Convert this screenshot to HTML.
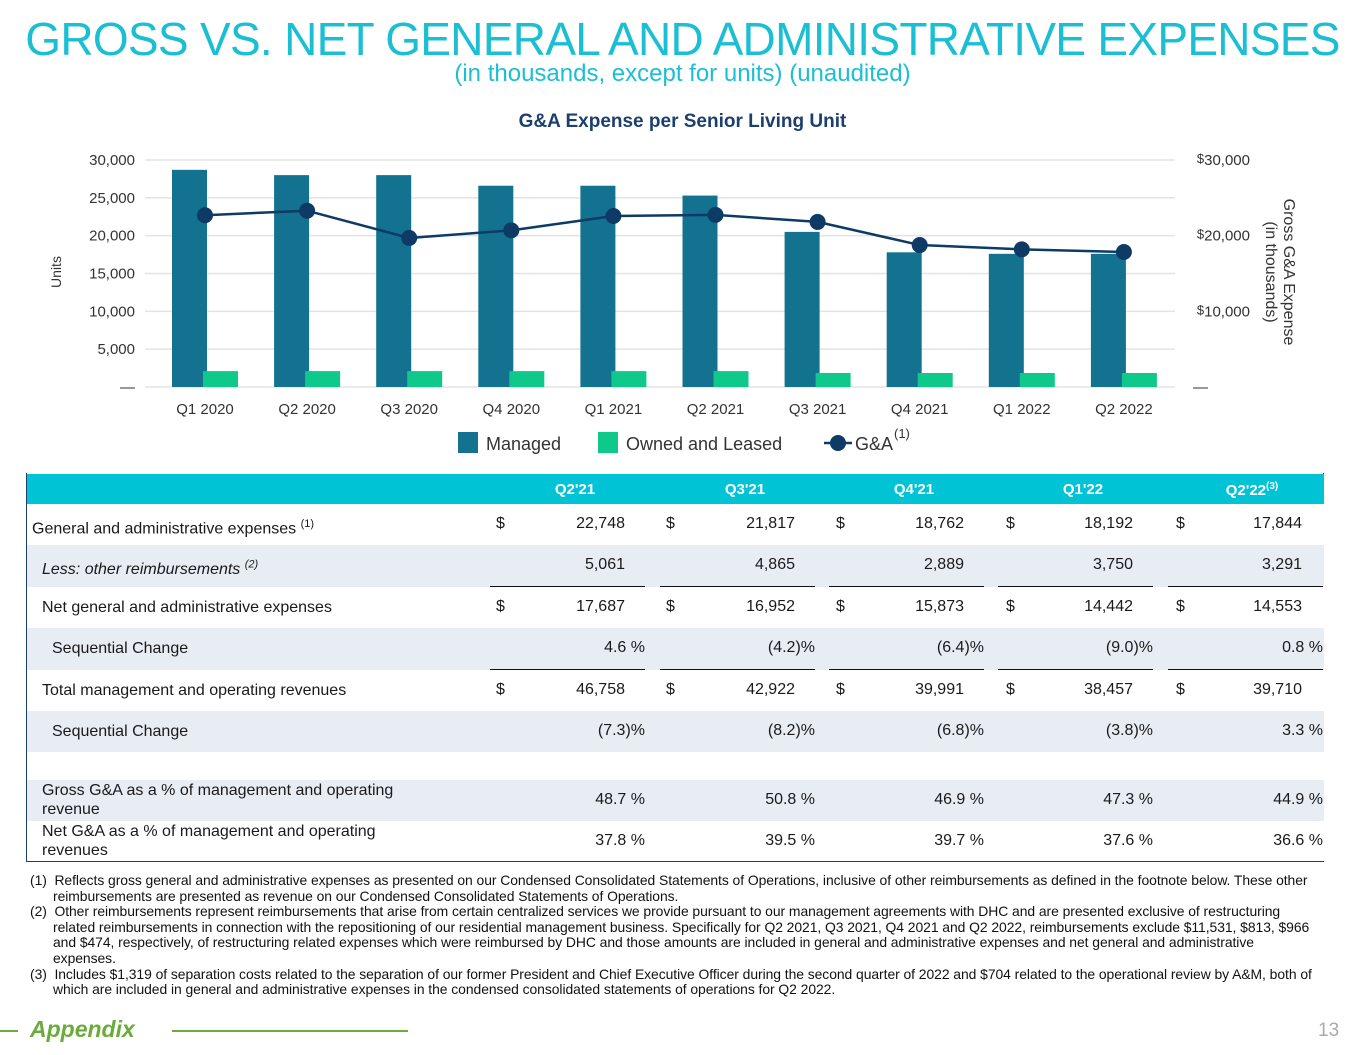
<!DOCTYPE html>
<html><head><meta charset="utf-8"><style>
body{margin:0;width:1365px;height:1055px;background:#fff;position:relative;overflow:hidden;font-family:"Liberation Sans",Arial,sans-serif;}
.a{position:absolute;white-space:nowrap;}
.t{font-size:16px;color:#1a1a1a;}
.fn{font-family:"Liberation Sans Narrow","Liberation Sans",sans-serif;font-size:13.9px;color:#111;line-height:15.6px;letter-spacing:-0.05px;}
</style></head><body>
<div class="a" style="left:0;width:1365px;text-align:center;top:12px;font-size:46px;color:#1bbfd3;letter-spacing:-0.7px">GROSS VS. NET GENERAL AND ADMINISTRATIVE EXPENSES</div>
<div class="a" style="left:0;width:1365px;text-align:center;top:60px;font-size:24px;color:#1bbfd3">(in thousands, except for units) (unaudited)</div>
<div class="a" style="left:0;width:1365px;text-align:center;top:111px;font-size:19px;font-weight:bold;color:#1d3f6e">G&amp;A Expense per Senior Living Unit</div>

<svg class="a" style="left:0;top:140px" width="1365" height="330" id="chart"></svg>

<div class="a" style="left:26px;top:473px;width:1298px;height:389px;border:1.5px solid #1d3f6e;border-top:none;box-sizing:border-box"></div>
<div id="tbl"></div>

<div class="a fn" style="left:30px;top:873px">
<div>(1)&nbsp; Reflects gross general and administrative expenses as presented on our Condensed Consolidated Statements of Operations, inclusive of other reimbursements as defined in the footnote below. These other</div>
<div style="padding-left:23px">reimbursements are presented as revenue on our Condensed Consolidated Statements of Operations.</div>
<div>(2)&nbsp; Other reimbursements represent reimbursements that arise from certain centralized services we provide pursuant to our management agreements with DHC and are presented exclusive of restructuring</div>
<div style="padding-left:23px">related reimbursements in connection with the repositioning of our residential management business. Specifically for Q2 2021, Q3 2021, Q4 2021 and Q2 2022, reimbursements exclude $11,531, $813, $966</div>
<div style="padding-left:23px">and $474, respectively, of restructuring related expenses which were reimbursed by DHC and those amounts are included in general and administrative expenses and net general and administrative</div>
<div style="padding-left:23px">expenses.</div>
<div>(3)&nbsp; Includes $1,319 of separation costs related to the separation of our former President and Chief Executive Officer during the second quarter of 2022 and $704 related to the operational review by A&amp;M, both of</div>
<div style="padding-left:23px">which are included in general and administrative expenses in the condensed consolidated statements of operations for Q2 2022.</div>
</div>
<div class="a" style="left:0;top:1030px;width:18px;height:2px;background:#6aab3c"></div>
<div class="a" style="left:30px;top:1016px;font-size:23px;font-weight:bold;font-style:italic;color:#6aab3c">Appendix</div>
<div class="a" style="left:172px;top:1030px;width:236px;height:2px;background:#6aab3c"></div>
<div class="a" style="left:1318px;top:1020px;font-size:19px;color:#aaa">13</div>

<script>
const categories=["Q1 2020","Q2 2020","Q3 2020","Q4 2020","Q1 2021","Q2 2021","Q3 2021","Q4 2021","Q1 2022","Q2 2022"];
const managed=[28700,28000,28000,26600,26600,25300,20500,17800,17600,17600];
const owned=[2100,2100,2100,2100,2100,2100,1850,1850,1850,1850];
const gna=[22700,23300,19700,20700,22600,22748,21817,18762,18192,17844];
const leftTicks=[0,5000,10000,15000,20000,25000,30000];
const leftTickLabels=["—","5,000","10,000","15,000","20,000","25,000","30,000"];
const rightTicks=[0,10000,20000,30000];
const rightTickLabels=["—","10,000","20,000","30,000"];

const NS="http://www.w3.org/2000/svg";
const svg=document.getElementById('chart');
function y(v){return 247-v*227/30000;}
function xc(i){return 205+i*102.1;}
function mk(tag,attrs,txt){const e=document.createElementNS(NS,tag);for(const k in attrs)e.setAttribute(k,attrs[k]);if(txt!==undefined)e.textContent=txt;svg.appendChild(e);return e;}
leftTicks.forEach((t,i)=>{
  const g=mk('line',{x1:145,x2:1175,y1:y(t),y2:y(t),stroke:'#e3e3e3','stroke-width':1.5});
  
  
  const l=mk('text',{x:135,y:y(t)+5,'text-anchor':'end','font-size':15,fill:'#333'},leftTickLabels[i]);
  
  
});
rightTicks.forEach((t,i)=>{
  let l;
  if(i){
    l=mk('text',{x:1250,y:y(t)+5,'text-anchor':'end','font-size':15,fill:'#333'});
    const s=document.createElementNS(NS,'tspan');s.setAttribute('font-size','13');s.setAttribute('dy','-2');s.textContent='$';l.appendChild(s);
    const n=document.createElementNS(NS,'tspan');n.setAttribute('dy','2');n.textContent=rightTickLabels[i];l.appendChild(n);
  } else {
    l=mk('text',{x:1193,y:y(t)+5,'font-size':15,fill:'#333'},rightTickLabels[i]);
  }
  
  
});
const yl=mk('text',{transform:'translate(61,132) rotate(-90)','text-anchor':'middle','font-size':14,fill:'#333'},'Units');


const yr=mk('text',{transform:'translate(1284,132) rotate(90)','text-anchor':'middle','font-size':16,fill:'#333'},'Gross G&A Expense');


const yr2=mk('text',{transform:'translate(1266,132) rotate(90)','text-anchor':'middle','font-size':16,fill:'#333'},'(in thousands)');


categories.forEach((c,i)=>{
  const b=mk('rect',{x:xc(i)-33,y:y(managed[i]),width:35,height:y(0)-y(managed[i]),fill:'#12728f'});
  
  
  const o=mk('rect',{x:xc(i)-2,y:y(owned[i]),width:35,height:y(0)-y(owned[i]),fill:'#0fc98a'});
  
  
  const l=mk('text',{x:xc(i),y:274,'text-anchor':'middle','font-size':15,fill:'#333'},c);
  
  
});
const pl=mk('polyline',{points:gna.map((v,i)=>xc(i)+','+y(v)).join(' '),fill:'none',stroke:'#0e3a66','stroke-width':2.5});


gna.forEach((v,i)=>{
  const p=mk('circle',{cx:xc(i),cy:y(v),r:8,fill:'#0e3a66'});
  
  
});
const l1=mk('rect',{x:458,y:292,width:20,height:21,fill:'#12728f'});


const t1=mk('text',{x:486,y:310,'font-size':18,fill:'#333'},'Managed');


const l2=mk('rect',{x:598,y:292,width:20,height:21,fill:'#0fc98a'});


const t2=mk('text',{x:626,y:310,'font-size':18,fill:'#333'},'Owned and Leased');


const l3=mk('line',{x1:824,x2:852,y1:303,y2:303,stroke:'#0e3a66','stroke-width':2.5});


const l4=mk('circle',{cx:838,cy:303,r:8,fill:'#0e3a66'});


const t3=mk('text',{x:855,y:310,'font-size':18,fill:'#333'},'G&A');


const t4=mk('text',{x:894,y:298,'font-size':13,fill:'#333'},'(1)');



const tbl=document.getElementById('tbl');
const colHeads=["Q2'21","Q3'21","Q4'21","Q1'22","Q2'22"];
const dollarX=[500,670,840,1010,1180];
const valRight=[625,795,964,1133,1302];
const pctRight=[645,815,984,1153,1323];
const rows=[
 {label:'General and administrative expenses <sup style="font-size:11px">(1)</sup>',vals:["22,748","21,817","18,762","18,192","17,844"],d:1,ind:0,top:504,h:41,bg:'#fff'},
 {label:'<i>Less: other reimbursements <sup style="font-size:11px">(2)</sup></i>',vals:["5,061","4,865","2,889","3,750","3,291"],ind:10,top:545,h:42,bg:'#e8ecf3',ul:1},
 {label:'Net general and administrative expenses',vals:["17,687","16,952","15,873","14,442","14,553"],d:1,ind:10,top:587,h:41,bg:'#fff'},
 {label:'Sequential Change',vals:["4.6 %","(4.2)%","(6.4)%","(9.0)%","0.8 %"],p:1,ind:20,top:628,h:42,bg:'#e8ecf3',ul:1},
 {label:'Total management and operating revenues',vals:["46,758","42,922","39,991","38,457","39,710"],d:1,ind:10,top:670,h:41,bg:'#fff'},
 {label:'Sequential Change',vals:["(7.3)%","(8.2)%","(6.8)%","(3.8)%","3.3 %"],p:1,ind:20,top:711,h:41,bg:'#e8ecf3'},
 {label:'',vals:[],top:752,h:28,bg:'#fff'},
 {label:'Gross G&amp;A as a % of management and operating<br>revenue',vals:["48.7 %","50.8 %","46.9 %","47.3 %","44.9 %"],p:1,ind:10,top:780,h:41,bg:'#e8ecf3',two:1},
 {label:'Net G&amp;A as a % of management and operating<br>revenues',vals:["37.8 %","39.5 %","39.7 %","37.6 %","36.6 %"],p:1,ind:10,top:821,h:40,bg:'#fff',two:1}
];
let h='<div class="a" style="left:27px;top:474px;width:1297px;height:30px;background:#00c4d6"></div>';
colHeads.forEach((c,i)=>{const r=i==4?'Q2\'22<sup style="font-size:10px">(3)</sup>':c;
 h+='<div class="a" style="left:'+(valRight[i]-110)+'px;width:120px;text-align:center;top:481px;font-size:15px;font-weight:bold;color:#fff">'+r+'</div>';});
rows.forEach(r=>{
 h+='<div class="a" style="left:27px;top:'+r.top+'px;width:1297px;height:'+r.h+'px;background:'+r.bg+'"></div>';
 const ty=r.two?r.top+1:r.top+11;
 h+='<div class="a t" style="left:'+(32+r.ind)+'px;top:'+ty+'px;line-height:19px">'+r.label+'</div>';
 r.vals.forEach((v,i)=>{
  const R=r.p?pctRight[i]:valRight[i];
  h+='<div class="a t" style="right:'+(1365-R)+'px;top:'+(r.top+11)+'px">'+v+'</div>';
  if(r.d)h+='<div class="a t" style="left:'+(dollarX[i]-4)+'px;top:'+(r.top+11)+'px">$</div>';
  if(r.ul)h+='<div class="a" style="left:'+(pctRight[i]-155)+'px;top:'+(r.top+r.h-1)+'px;width:155px;height:2px;background:#111"></div>';
 });
});
tbl.innerHTML=h;
</script>
</body></html>
